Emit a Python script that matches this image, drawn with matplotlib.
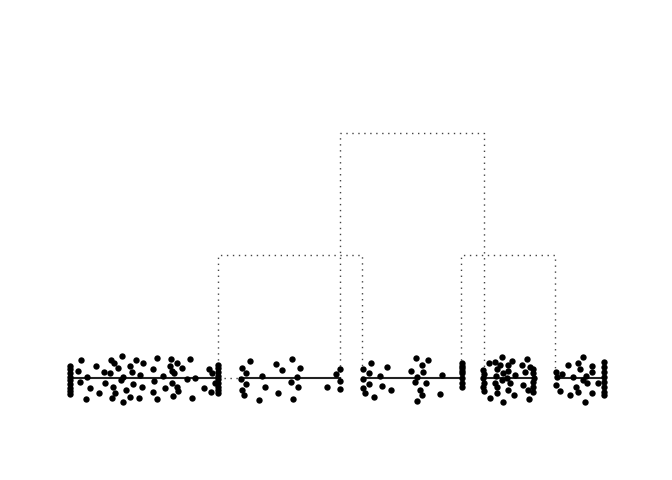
import matplotlib
matplotlib.use('Agg')
import matplotlib.pyplot as plt

# cluster ranges along the value axis
clust_lo = [0.0, 34.0, 58.5, 82.7, 97.2]
clust_hi = [29.6, 54.0, 78.3, 92.7, 106.9]

# points: value and vertical jitter
pts_x = [
    # cluster 1
    0, 0, 0, 0, 0, 0, 0, 0, 0,
    2.2, 1.67, 3.33, 2.0, 4.0, 3.2, 5.13, 5.87, 6.87, 7.0, 8.13, 8.87, 8.0, 8.67, 9.0, 8.4,
    10.47, 9.67, 10.13, 10.67, 11.2, 10.53, 12.0, 12.33, 12.0, 12.67, 13.2, 14.0, 13.87, 14.33,
    14.67, 16.67, 16.8, 16.53, 17.33, 17.47, 18.53, 19.0, 20.13, 20.0, 20.33, 20.8, 20.33, 21.33,
    21.33, 21.67, 20.67, 22.33, 23.33, 24.0, 25.0, 24.47, 26.8, 27.87, 28.33, 29.0, 28.2,
    29.6, 29.6, 29.6, 29.6, 29.6, 29.6, 29.6, 29.6, 29.6,
    # cluster 2
    34.33, 35.2, 36.0, 34.2, 35.2, 34.33, 34.8, 37.8, 38.33, 39.0, 41.13, 41.67, 42.47, 44.2,
    44.47, 45.33, 46.0, 45.67, 44.67, 51.33, 53.2, 54.0, 54.0, 54.0,
    # cluster 3
    58.53, 58.53, 58.53, 59.87, 59.87, 60.2, 59.0, 60.87, 62.0, 62.47, 63.33, 64.13, 68.13,
    69.13, 70.33, 71.67, 70.53, 69.47, 69.0, 71.2, 70.0, 70.33, 69.33, 74.0, 74.47,
    78.33, 78.33, 78.33, 78.33, 78.33, 78.33, 78.33, 78.33,
    # cluster 4
    82.67, 82.87, 82.67, 82.87, 82.67, 82.87, 83.8, 84.0, 85.0, 85.33, 85.13, 85.0, 85.33, 85.33,
    86.33, 86.0, 86.67, 86.47, 86.67, 87.67, 87.67, 87.33, 88.0, 87.67, 88.33, 89.0, 88.87,
    90.33, 90.53, 91.0, 91.33, 91.67, 92.0, 91.87, 92.67, 92.67, 92.8, 92.67, 92.67, 92.67,
    # cluster 5
    97.2, 97.33, 97.2, 98.0, 98.33, 99.67, 100.0, 100.53, 101.2, 101.53, 102.0, 101.67, 102.67,
    102.53, 103.0, 103.2, 103.33, 104.33, 104.33, 104.33, 105.67,
    106.87, 106.87, 106.87, 106.87, 106.87, 106.87, 106.87, 106.87,
]
pts_y = [
    # cluster 1
    0.10, 0.07, 0.04, 0.01, -0.02, -0.05, -0.08, -0.11, -0.13,
    0.147, 0.06, 0.011, -0.03, -0.084, -0.174, 0.098, -0.125, 0.052, -0.038, 0.147, 0.125, 0.038,
    -0.071, -0.12, -0.161, 0.183, 0.079, -0.016, 0.005, -0.098, -0.2, 0.098, 0.046, -0.153, -0.052,
    0.147, 0.025, -0.166, -0.071, 0.12, 0.071, -0.025, -0.117, 0.166, -0.174, 0.016, -0.084,
    0.153, 0.098, 0.057, 0.038, -0.038, 0.125, -0.071, -0.104, -0.147, 0.079, -0.011, 0.155,
    -0.003, -0.166, -0.084, 0.071, 0.038, -0.044, -0.117,
    0.11, 0.08, 0.05, 0.02, -0.01, -0.04, -0.07, -0.10, -0.12,
    # cluster 2
    0.079, 0.038, 0.142, -0.011, -0.052, -0.098, -0.139, -0.18, 0.019, -0.076, 0.114, -0.125,
    0.065, -0.03, 0.153, 0.005, 0.084, -0.076, -0.174, -0.076, 0.03, 0.074, -0.025, -0.09,
    # cluster 3
    0.071, -0.011, -0.084, 0.038, -0.052, 0.12, -0.125, -0.158, 0.016, -0.065, 0.093, -0.098,
    0.06, 0.161, 0.106, 0.147, 0.052, 0.011, -0.03, -0.044, -0.098, -0.139, -0.188, -0.131, 0.025,
    0.12, 0.10, 0.08, 0.06, 0.04, 0.0, -0.04, -0.07,
    # cluster 4
    0.065, 0.033, -0.003, -0.038, -0.071, -0.106, 0.125, -0.166, 0.134, 0.071, 0.019, -0.038,
    -0.071, -0.125, 0.174, 0.106, 0.038, -0.016, -0.193, 0.106, 0.057, -0.003, -0.044, -0.098,
    0.142, 0.025, -0.139, 0.106, -0.057, 0.052, 0.155, -0.098, 0.093, -0.172, 0.071, 0.038,
    0.003, -0.03, -0.071, -0.112,
    # cluster 5
    0.052, 0.005, -0.057, -0.104, 0.033, 0.106, -0.139, 0.011, -0.071, 0.12, 0.074, -0.112,
    0.174, -0.016, -0.193, 0.016, -0.044, 0.101, 0.052, -0.125, -0.044,
    0.134, 0.093, 0.052, 0.011, -0.03, -0.071, -0.112, -0.139,
]

# merges: left position, right position, height
merge_left = [29.6, 78.2, 54.0]
merge_right = [58.4, 97.0, 82.8]
merge_height = [1.0, 1.0, 2.0]

fig = plt.figure(figsize=(6.72, 4.8), dpi=100)
ax = fig.add_axes([0, 0, 1, 1])
ax.set_xlim(-14, 120.4)
ax.set_ylim(-0.833, 3.086)
ax.axis('off')

# dotted merge links
dot = dict(color='#444444', linestyle=(0, (1, 3.3)), linewidth=1.0, zorder=1)
for l, r, h in zip(merge_left, merge_right, merge_height):
    ax.plot([l, l, r, r], [0, h, h, 0], **dot)
ax.plot([clust_hi[0], clust_lo[1]], [0, 0], **dot)

for lo, hi in zip(clust_lo, clust_hi):
    ax.plot([lo, hi], [0, 0], color='#222222', linewidth=1.5, zorder=2)

ax.scatter(pts_x, pts_y, s=21, color='black', linewidths=0, zorder=3)

fig.savefig('out.png', dpi=100)
